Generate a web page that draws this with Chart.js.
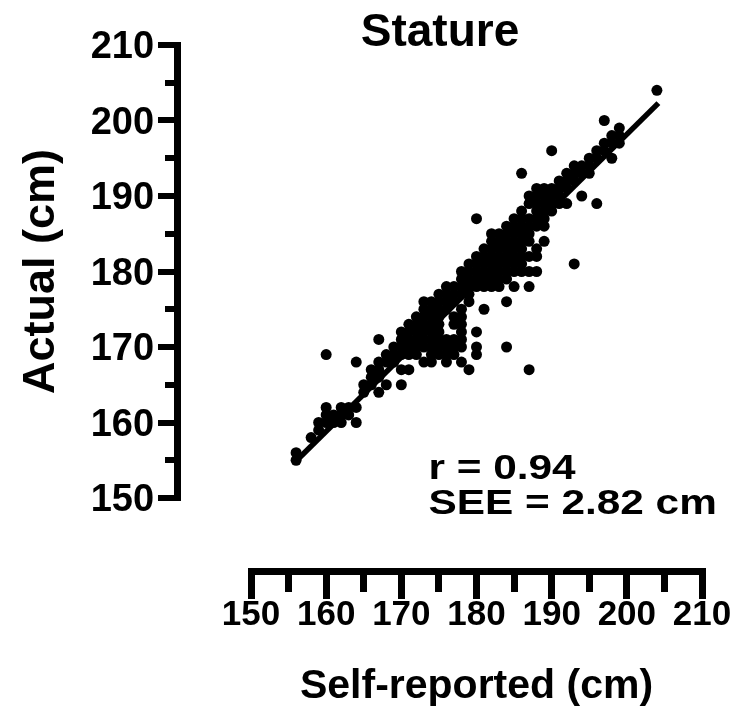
<!DOCTYPE html>
<html>
<head>
<meta charset="utf-8">
<style>
  html, body { margin: 0; padding: 0; background: #ffffff; }
  #wrap { width: 739px; height: 715px; }
</style>
<script src="https://cdn.jsdelivr.net/npm/chart.js"></script>
</head>
<body>
<div id="wrap"><canvas id="c" width="739" height="715"></canvas></div>
<script>
// ---------- data ----------
const chartTitle = 'Stature';
const xTitle = 'Self-reported (cm)';
const yTitle = 'Actual (cm)';
const majorTicks = [150, 160, 170, 180, 190, 200, 210];
const minorTicks = [150, 155, 160, 165, 170, 175, 180, 185, 190, 195, 200, 205, 210];

const selfReported = [
  156, 156,
  158,
  159, 159,
  160, 160, 160, 160,
  161, 161,
  162, 162, 162,
  163, 163,
  164, 164, 164,
  165, 165,
  166, 166, 166,
  167, 167, 167, 167, 167,
  168, 168, 168,
  169, 169, 169,
  170, 170, 170, 170, 170, 170,
  171, 171, 171, 171, 171, 171,
  172, 172, 172, 172, 172, 172,
  173, 173, 173, 173, 173, 173, 173, 173,
  174, 174, 174, 174, 174, 174, 174, 174, 174,
  175, 175, 175, 175, 175, 175, 175, 175, 175,
  176, 176, 176, 176, 176, 176, 176, 176,
  177, 177, 177, 177, 177, 177, 177, 177,
  178, 178, 178, 178, 178, 178, 178, 178, 178, 178, 178,
  179, 179, 179, 179, 179, 179, 179,
  180, 180, 180, 180, 180, 180, 180, 180, 180,
  181, 181, 181, 181, 181, 181, 181,
  182, 182, 182, 182, 182, 182, 182, 182,
  183, 183, 183, 183, 183, 183, 183, 183,
  184, 184, 184, 184, 184, 184, 184, 184, 184, 184,
  185, 185, 185, 185, 185, 185, 185, 185, 185,
  186, 186, 186, 186, 186, 186, 186, 186, 186, 186,
  187, 187, 187, 187, 187, 187, 187, 187, 187, 187,
  188, 188, 188, 188, 188, 188, 188, 188, 188,
  189, 189, 189, 189, 189, 189, 189,
  190, 190, 190, 190, 190,
  191, 191, 191, 191,
  192, 192, 192, 192,
  193, 193, 193, 193,
  194, 194, 194,
  195, 195, 195,
  196, 196, 196,
  197, 197, 197,
  198, 198, 198,
  199, 199, 199,
  204
];

const actual = [
  155, 156,
  158,
  159, 160,
  160, 161, 162, 169,
  160, 161,
  160, 161, 162,
  161, 162,
  160, 162, 168,
  164, 165,
  165, 166, 167,
  164, 166, 167, 168, 171,
  165, 168, 169,
  168, 169, 170,
  165, 167, 169, 170, 171, 172,
  167, 169, 170, 171, 172, 173,
  169, 170, 171, 172, 173, 174,
  168, 170, 171, 172, 173, 174, 175, 176,
  168, 169, 170, 171, 172, 173, 174, 175, 176,
  169, 170, 171, 172, 173, 174, 175, 176, 177,
  168, 169, 170, 171, 175, 176, 177, 178,
  169, 170, 171, 173, 174, 176, 177, 178,
  168, 170, 171, 172, 173, 174, 175, 177, 178, 179, 180,
  167, 176, 177, 178, 179, 180, 181,
  169, 170, 172, 178, 179, 180, 181, 182, 187,
  175, 178, 179, 180, 181, 182, 183,
  178, 179, 180, 181, 182, 183, 184, 185,
  178, 179, 180, 181, 182, 183, 184, 185,
  170, 176, 179, 180, 181, 182, 183, 184, 185, 186,
  178, 180, 181, 182, 183, 184, 185, 186, 187,
  180, 181, 182, 183, 184, 185, 186, 187, 188, 193,
  167, 178, 180, 182, 184, 185, 186, 187, 189, 190,
  180, 182, 183, 186, 187, 188, 189, 190, 191,
  184, 186, 187, 188, 189, 190, 191,
  188, 189, 190, 191, 196,
  189, 190, 191, 192,
  189, 191, 192, 193,
  181, 192, 193, 194,
  190, 193, 194,
  193, 194, 195,
  189, 195, 196,
  196, 197, 200,
  195, 197, 198,
  197, 198, 199,
  204
];

// regression line end points (self-reported, actual)
const fitX = [156.0, 204.2];
const fitY = [154.9, 202.3];

const statLines = ['r = 0.94', 'SEE = 2.82 cm'];

// ---------- chart ----------
Chart.defaults.font.family = "'Liberation Sans', Arial, Helvetica, sans-serif";
Chart.defaults.color = '#000';

const points = selfReported.map((v, i) => ({ x: v, y: actual[i] }));
const fitLine = fitX.map((v, i) => ({ x: v, y: fitY[i] }));

const useTicks = list => scale => { scale.ticks = list.map(v => ({ value: v })); };

const statsPlugin = {
  id: 'statsText',
  afterDraw(chart) {
    const { ctx, scales } = chart;
    const left = scales.x.getPixelForValue(173.6);
    const baselines = [152.5, 147.9].map(v => scales.y.getPixelForValue(v));
    ctx.save();
    ctx.fillStyle = '#000';
    ctx.font = "bold 35px 'Liberation Sans', Arial, sans-serif";
    ctx.textAlign = 'left';
    ctx.textBaseline = 'alphabetic';
    statLines.forEach((t, i) => {
      ctx.save();
      ctx.translate(left, baselines[i]);
      ctx.scale(1.21, 1);
      ctx.fillText(t, 0, 0);
      ctx.restore();
    });
    ctx.restore();
  }
};

const axisLineX = 140.22;   // x value where the (offset) y axis is drawn
const axisLineY = 140.2;    // y value where the (offset) x axis is drawn

new Chart(document.getElementById('c'), {
  type: 'scatter',
  data: {
    datasets: [
      {
        type: 'line',
        label: 'Regression',
        data: fitLine,
        xAxisID: 'x', yAxisID: 'y',
        borderColor: '#000',
        borderWidth: 5.5,
        pointRadius: 0,
        fill: false,
        tension: 0
      },
      {
        label: 'Participants',
        data: points,
        xAxisID: 'x', yAxisID: 'y',
        backgroundColor: '#000',
        borderColor: '#000',
        pointRadius: 5.5,
        pointBorderWidth: 0,
        pointHoverRadius: 5.5
      }
    ]
  },
  options: {
    responsive: false,
    animation: false,
    events: [],
    layout: { padding: { left: 178, right: 37, top: 0, bottom: 0 } },
    plugins: {
      legend: { display: false },
      tooltip: { enabled: false },
      title: {
        display: true,
        text: chartTitle,
        color: '#000',
        font: { size: 46, weight: 'bold' },
        padding: { top: 5.5, bottom: -15.7 }
      }
    },
    scales: {
      x: {
        type: 'linear', position: 'bottom', min: 150, max: 210,
        afterBuildTicks: useTicks(majorTicks),
        ticks: { display: false },
        grid: { display: false, drawTicks: false },
        border: { display: false },
        title: { display: true, text: xTitle, color: '#000',
                 font: { size: 41, weight: 'bold' }, padding: { top: 164.4, bottom: 3.4 } }
      },
      y: {
        type: 'linear', position: 'left', min: 150, max: 210,
        afterBuildTicks: useTicks(majorTicks),
        ticks: { display: false },
        grid: { display: false, drawTicks: false },
        border: { display: false },
        title: { display: true, text: yTitle, color: '#000',
                 font: { size: 45, weight: 'bold' }, padding: { top: -163, bottom: 182 } }
      },
      xMinor: {
        type: 'linear', axis: 'x', position: { y: axisLineY }, min: 150, max: 210,
        afterBuildTicks: useTicks(minorTicks),
        ticks: { display: false },
        grid: { display: true, drawOnChartArea: false, drawTicks: true, tickLength: 17,
                tickWidth: 7, tickColor: '#000', lineWidth: 7, color: '#000' },
        border: { display: true, color: '#000', width: 7 }
      },
      xAxis: {
        type: 'linear', axis: 'x', position: { y: axisLineY }, min: 150, max: 210,
        afterBuildTicks: useTicks(majorTicks),
        ticks: { display: true, color: '#000', font: { size: 35, weight: 'bold' },
                 padding: -2, autoSkip: false, maxRotation: 0, minRotation: 0 },
        grid: { display: true, drawOnChartArea: false, drawTicks: true, tickLength: 24,
                tickWidth: 7, tickColor: '#000', lineWidth: 7, color: '#000' },
        border: { display: true, color: '#000', width: 7 }
      },
      yMinor: {
        type: 'linear', axis: 'y', position: { x: axisLineX }, min: 150, max: 210,
        afterBuildTicks: useTicks(minorTicks),
        ticks: { display: false },
        grid: { display: true, drawOnChartArea: false, drawTicks: true, tickLength: 9,
                tickWidth: 6, tickColor: '#000', lineWidth: 6, color: '#000' },
        border: { display: true, color: '#000', width: 7 }
      },
      yAxis: {
        type: 'linear', axis: 'y', position: { x: axisLineX }, min: 150, max: 210,
        afterBuildTicks: useTicks(majorTicks),
        ticks: { display: false },
        grid: { display: true, drawOnChartArea: false, drawTicks: true, tickLength: 16,
                tickWidth: 6, tickColor: '#000', lineWidth: 6, color: '#000' },
        border: { display: true, color: '#000', width: 7 }
      },
      yLabels: {
        type: 'linear', axis: 'y', position: { x: 137.1 }, min: 150, max: 210,
        afterBuildTicks: useTicks(majorTicks),
        ticks: { display: true, color: '#000', font: { size: 38, weight: 'bold' },
                 padding: 0, labelOffset: 3, autoSkip: false },
        grid: { display: false, drawTicks: false },
        border: { display: false }
      }
    }
  },
  plugins: [statsPlugin]
});
</script>
</body>
</html>
